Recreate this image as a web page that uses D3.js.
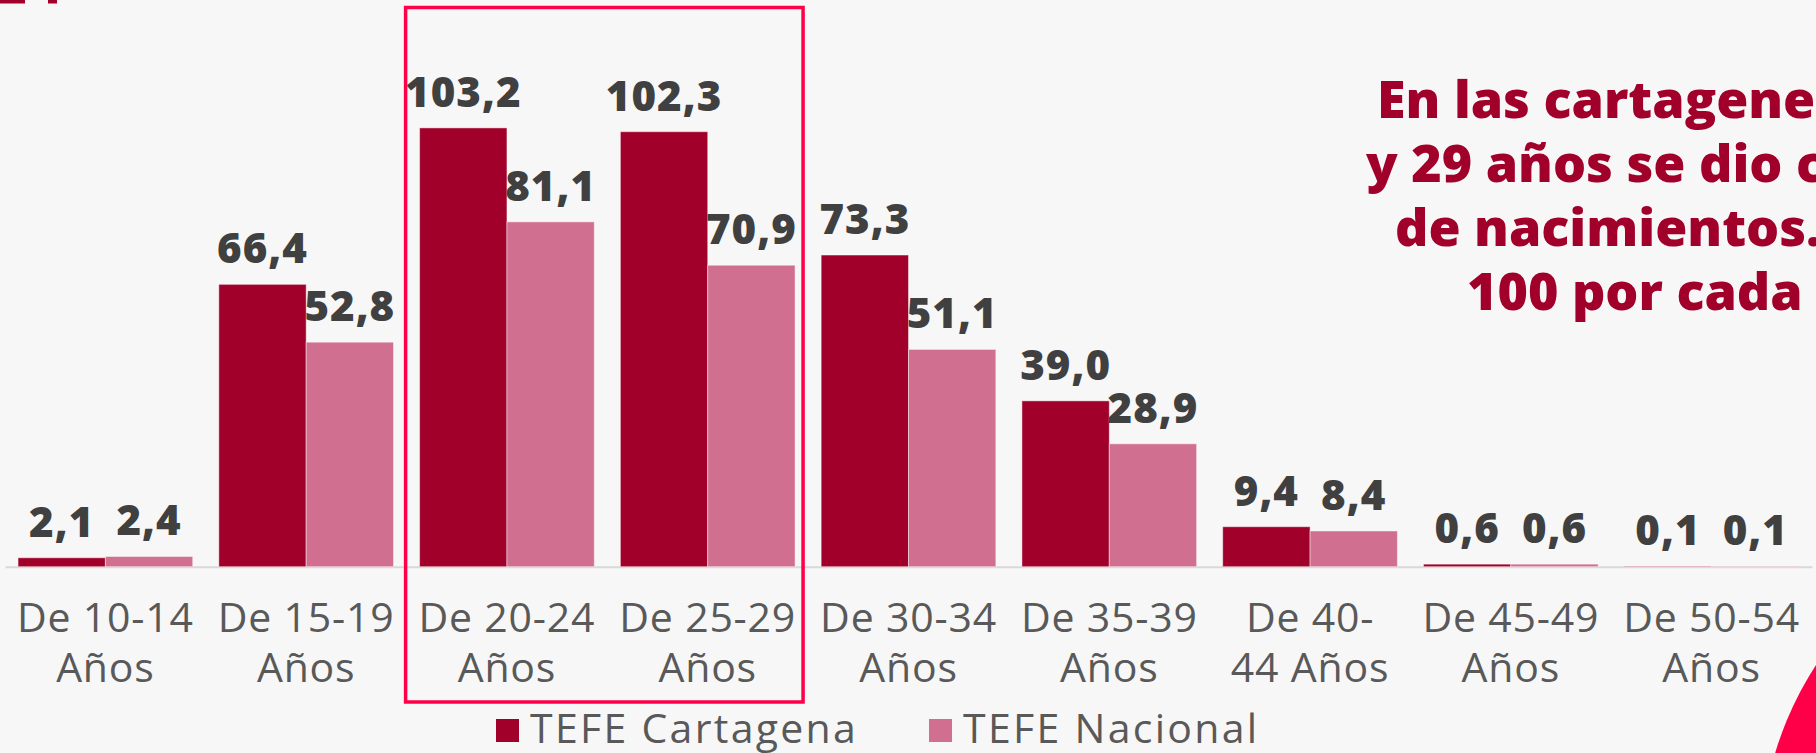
<!DOCTYPE html>
<html>
<head>
<meta charset="utf-8">
<script src="https://cdn.jsdelivr.net/npm/d3@7"></script>
<style>
    html, body { margin: 0; padding: 0; background: #f7f7f7; overflow: hidden; }
    svg { display: block; }
</style>
</head>
<body>
<svg id="chart"></svg>
<script>
// age groups (each label is split in two lines like in the original slide)
const categories = ["De 10-14", "De 15-19", "De 20-24", "De 25-29", "De 30-34", "De 35-39", "De 40-44", "De 45-49", "De 50-54"];
const categoryLines = [
    ["De 10-14", "Años"], ["De 15-19", "Años"], ["De 20-24", "Años"], ["De 25-29", "Años"],
    ["De 30-34", "Años"], ["De 35-39", "Años"], ["De 40-", "44 Años"], ["De 45-49", "Años"], ["De 50-54", "Años"]
];
const seriesNames = ["TEFE Cartagena", "TEFE Nacional"];
const cartagena = [2.1, 66.4, 103.2, 102.3, 73.3, 39.0, 9.4, 0.6, 0.1];
const nacional = [2.4, 52.8, 81.1, 70.9, 51.1, 28.9, 8.4, 0.6, 0.1];
const highlighted = ["De 20-24", "De 25-29"];
const noteLines = ["En las cartagene", "y 29 años se dio c", "de nacimientos.", "100 por cada"];

const width = 1816;
const height = 753;
const colors = ["#a0002a", "#d06f90"];
const fmt = v => v.toFixed(1).replace(".", ",");

const svg = d3.select("#chart")
    .attr("width", width)
    .attr("height", height)
    .style("background", "#f7f7f7");

// big red circle peeking in at bottom right
svg.append("circle")
    .attr("cx", 2100)
    .attr("cy", 850)
    .attr("r", 339)
    .attr("fill", "#ff0048");

// bits of the cut title at top left
svg.append("rect").attr("x", 0).attr("y", 0).attr("width", 25).attr("height", 3.5).attr("fill", "#a0002a");
svg.append("rect").attr("x", 48).attr("y", 0).attr("width", 9).attr("height", 3.5).attr("fill", "#a0002a");

// scales
const baseline = 566.7;
const x0 = d3.scaleBand()
    .domain(categories)
    .range([5, 1812])
    .paddingInner(0.13)
    .paddingOuter(0.065);
const x1 = d3.scaleBand()
    .domain(seriesNames)
    .range([0, x0.bandwidth()]);
const y = d3.scaleLinear()
    .domain([0, 120])
    .range([baseline, baseline - 120 * 4.252]);

// axis line
const xAxis = d3.axisBottom(x0).tickSize(0).tickFormat("");
const gx = svg.append("g")
    .attr("transform", `translate(0,${baseline})`)
    .call(xAxis);
gx.select(".domain").attr("stroke", "#d9d9d9").attr("stroke-width", 2);

// bars
const rows = categories.map((c, i) => ({ cat: c, values: [cartagena[i], nacional[i]] }));
const groups = svg.selectAll(".group")
    .data(rows)
    .enter()
    .append("g")
    .attr("class", "group")
    .attr("transform", d => `translate(${x0(d.cat)},0)`);

groups.selectAll("rect")
    .data(d => d.values.map((v, k) => ({ name: seriesNames[k], value: v, k: k })))
    .enter()
    .append("rect")
    .attr("x", d => x1(d.name))
    .attr("y", d => y(d.value))
    .attr("width", x1.bandwidth())
    .attr("height", d => y(0) - y(d.value))
    .attr("fill", d => colors[d.k])
    .attr("stroke", "rgba(255,255,255,0.45)")
    .attr("stroke-width", 1);

// value labels
groups.selectAll(".val")
    .data(d => d.values.map((v, k) => ({ name: seriesNames[k], value: v })))
    .enter()
    .append("text")
    .attr("class", "val")
    .attr("x", d => x1(d.name) + x1.bandwidth() / 2)
    .attr("y", d => y(d.value) - 21)
    .attr("text-anchor", "middle")
    .style("font-family", "'Open Sans', sans-serif")
    .style("font-weight", 800)
    .style("font-size", "42px")
    .style("letter-spacing", "1px")
    .style("fill", "#404040")
    .text(d => fmt(d.value));

// category labels
const catLabels = svg.selectAll(".cat")
    .data(categories)
    .enter()
    .append("text")
    .attr("class", "cat")
    .attr("text-anchor", "middle")
    .style("font-family", "'Open Sans', sans-serif")
    .style("font-size", "41px")
    .style("letter-spacing", "0.8px")
    .style("fill", "#595959");
catLabels.each(function (d, i) {
    const t = d3.select(this);
    const cx = x0(d) + x0.bandwidth() / 2;
    categoryLines[i].forEach((line, j) => {
        t.append("tspan")
            .attr("x", cx)
            .attr("y", 632 + j * 49.5)
            .text(line);
    });
});

// highlight box around 20-29
const hx0 = x0(highlighted[0]) - 14;
const hx1 = x0(highlighted[1]) + x0.bandwidth() + 8;
svg.append("rect")
    .attr("x", hx0)
    .attr("y", 7.5)
    .attr("width", hx1 - hx0)
    .attr("height", 702 - 7.5)
    .attr("fill", "none")
    .attr("stroke", "#ff0048")
    .attr("stroke-width", 3.5);

// legend
const legendX = [496, 929];
const legend = svg.selectAll(".legend")
    .data(seriesNames)
    .enter()
    .append("g")
    .attr("class", "legend")
    .attr("transform", (d, i) => `translate(${legendX[i]},719)`);
legend.append("rect")
    .attr("width", 23)
    .attr("height", 23)
    .attr("fill", (d, i) => colors[i]);
legend.append("text")
    .attr("x", 34)
    .attr("y", 23.5)
    .style("font-family", "'Open Sans', sans-serif")
    .style("font-size", "41px")
    .style("letter-spacing", "2.3px")
    .style("fill", "#595959")
    .text(d => d);

// side note, cut off by the right edge
const noteX = [1377, 1366, 1395, 1467];
svg.selectAll(".note")
    .data(noteLines)
    .enter()
    .append("text")
    .attr("class", "note")
    .attr("x", (d, i) => noteX[i])
    .attr("y", (d, i) => 118 + i * 64)
    .style("font-family", "'Open Sans', sans-serif")
    .style("font-weight", 800)
    .style("font-size", "52px")
    .style("fill", "#a0002a")
    .text(d => d);
</script>
</body>
</html>
